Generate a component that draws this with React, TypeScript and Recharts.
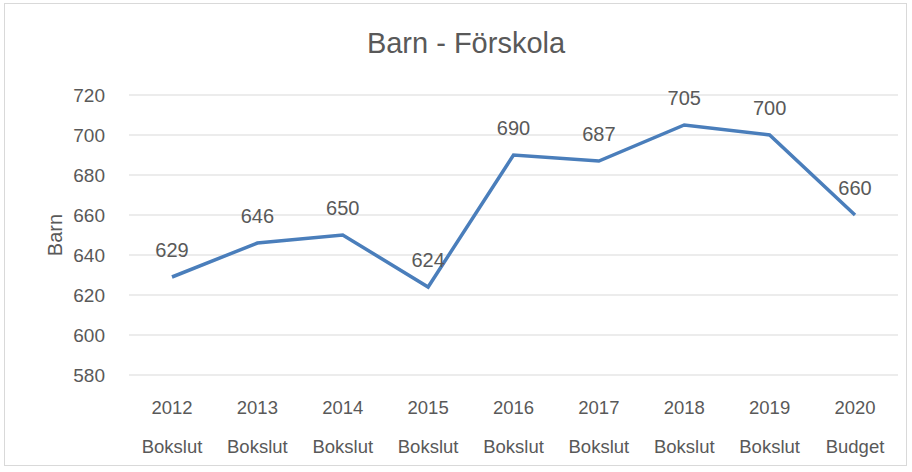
import { LineChart, Line, XAxis, YAxis, CartesianGrid, LabelList } from "recharts";

const years = ["2012", "2013", "2014", "2015", "2016", "2017", "2018", "2019", "2020"];
const kinds = ["Bokslut", "Bokslut", "Bokslut", "Bokslut", "Bokslut", "Bokslut", "Bokslut", "Bokslut", "Budget"];
const barn = [629, 646, 650, 624, 690, 687, 705, 700, 660];
const yTicks = [580, 600, 620, 640, 660, 680, 700, 720];

const data = years.map((y, i) => ({ year: y, kind: kinds[i], barn: barn[i] }));

const FONT = "'Liberation Sans', Arial, sans-serif";
const TEXT = "#595959";

const CategoryTick = (props: any) => {
  const { x, y, payload, index } = props;
  return (
    <g>
      <text x={x} y={y + 31} textAnchor="middle" fill={TEXT} fontSize={18.5} fontFamily={FONT}>
        {payload.value}
      </text>
      <text x={x} y={y + 70} textAnchor="middle" fill={TEXT} fontSize={18.5} fontFamily={FONT}>
        {kinds[index]}
      </text>
    </g>
  );
};

const App = () => {
  return (
    <div style={{ position: "absolute", left: 0, top: 0, width: 912, height: 472, background: "#fff" }}>
      <div
        style={{
          position: "absolute",
          left: 4,
          top: 3,
          width: 903,
          height: 463,
          border: "1px solid #d9d9d9",
          boxSizing: "border-box",
        }}
      />
      <div
        style={{
          position: "absolute",
          left: 0,
          top: 27,
          width: 932,
          textAlign: "center",
          fontFamily: FONT,
          fontSize: 29,
          color: TEXT,
        }}
      >
        Barn - Förskola
      </div>
      <div style={{ position: "absolute", left: 0, top: 0 }}>
        <LineChart width={912} height={472} data={data} margin={{ top: 95, right: 14, left: 69, bottom: 7 }}>
          <CartesianGrid vertical={false} stroke="#d9d9d9" />
          <XAxis
            dataKey="year"
            axisLine={false}
            tickLine={false}
            height={90}
            interval={0}
            padding={{ left: 43, right: 43 }}
            tick={<CategoryTick />}
          />
          <YAxis
            domain={[580, 720]}
            ticks={yTicks}
            axisLine={false}
            tickLine={false}
            width={60}
            tickMargin={18}
            tick={{ fill: TEXT, fontSize: 19, fontFamily: FONT }}
            label={{
              value: "Barn",
              angle: -90,
              position: "insideLeft",
              offset: -14,
              style: { fill: TEXT, fontSize: 20, fontFamily: FONT, textAnchor: "middle" },
            }}
          />
          <Line
            type="linear"
            dataKey="barn"
            stroke="#4a7ebb"
            strokeWidth={3.5}
            dot={false}
            isAnimationActive={false}
          >
            <LabelList
              dataKey="barn"
              position="top"
              offset={20}
              fill={TEXT}
              fontSize={20}
              fontFamily={FONT}
            />
          </Line>
        </LineChart>
      </div>
    </div>
  );
};

export default App;
